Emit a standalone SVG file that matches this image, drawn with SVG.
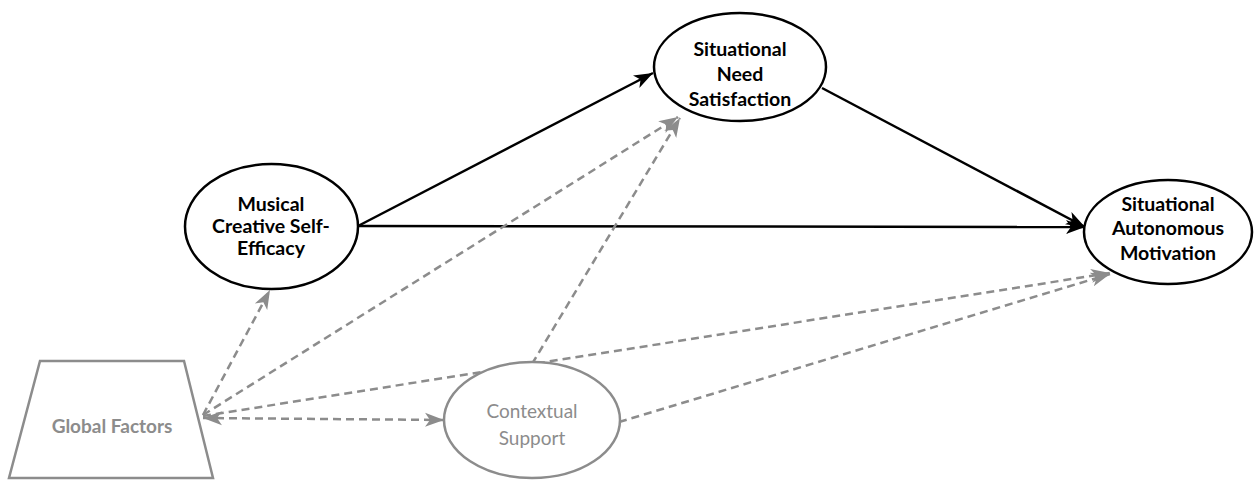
<svg xmlns="http://www.w3.org/2000/svg" width="1257" height="481" viewBox="0 0 1257 481">
  <style>
    .node { fill: #ffffff; stroke: #000000; stroke-width: 2.5; }
    .node-grey { fill: #ffffff; stroke: #8c8c8c; stroke-width: 2.5; }
    .label { font-family: Lato, "Open Sans", "Liberation Sans", sans-serif; font-size: 19.5px; font-weight: bold; fill: #000000; text-anchor: middle; dominant-baseline: central; }
    .label-grey { font-family: Lato, "Open Sans", "Liberation Sans", sans-serif; font-size: 19px; fill: #8c8c8c; text-anchor: middle; dominant-baseline: central; }
    .solid { fill: none; stroke: #000000; stroke-width: 2.5; marker-end: url(#head-black); }
    .dashed { fill: none; stroke: #8c8c8c; stroke-width: 2.5; stroke-dasharray: 8 5; marker-end: url(#head-grey); }
  </style>
  <defs>
    <marker id="head-black" markerUnits="userSpaceOnUse" markerWidth="20" markerHeight="16" viewBox="0 0 20 16" refX="19" refY="8" orient="auto">
      <path d="M0,1 L19,8 L0,15 L5,8 z" fill="#000000"/>
    </marker>
    <marker id="head-grey" markerUnits="userSpaceOnUse" markerWidth="20" markerHeight="16" viewBox="0 0 20 16" refX="19" refY="8" orient="auto">
      <path d="M0,1 L19,8 L0,15 L5,8 z" fill="#8c8c8c"/>
    </marker>
    <marker id="tail-grey" markerUnits="userSpaceOnUse" markerWidth="20" markerHeight="16" viewBox="0 0 20 16" refX="1" refY="8" orient="auto">
      <path d="M20,1 L1,8 L20,15 L15,8 z" fill="#8c8c8c"/>
    </marker>
  </defs>

  <!-- connectors -->
  <g id="connectors">
    <line class="solid" x1="358" y1="226" x2="653" y2="73"/>
    <line class="solid" x1="358" y1="226" x2="1085" y2="227"/>
    <line class="solid" x1="822" y1="88" x2="1085" y2="227"/>

    <line class="dashed" x1="203" y1="415" x2="270" y2="290"/>
    <line class="dashed" x1="203" y1="415" x2="678" y2="117"/>
    <line class="dashed" x1="203" y1="416" x2="1110" y2="273"/>
    <line class="dashed" x1="203" y1="418" x2="444" y2="420" marker-start="url(#tail-grey)"/>
    <line class="dashed" x1="532" y1="364" x2="680" y2="118"/>
    <line class="dashed" x1="619" y1="422" x2="1110" y2="274"/>
  </g>

  <!-- nodes -->
  <g id="node-global-factors">
    <polygon class="node-grey" points="40,361 184,361 213,478 9,478"/>
    <text class="label-grey" x="112" y="425" font-weight="bold" font-size="20px">Global Factors</text>
  </g>

  <g id="node-self-efficacy">
    <ellipse class="node" cx="271.5" cy="226.5" rx="86.5" ry="62.5"/>
    <text class="label" x="271" y="203">Musical</text>
    <text class="label" x="271" y="225">Creative Self-</text>
    <text class="label" x="271" y="247">Efficacy</text>
  </g>

  <g id="node-need-satisfaction">
    <ellipse class="node" cx="740" cy="67" rx="86" ry="54"/>
    <text class="label" x="740" y="48">Situational</text>
    <text class="label" x="740" y="73">Need</text>
    <text class="label" x="740" y="98">Satisfaction</text>
  </g>

  <g id="node-autonomous-motivation">
    <ellipse class="node" cx="1168" cy="232" rx="84" ry="52"/>
    <text class="label" x="1168" y="203">Situational</text>
    <text class="label" x="1168" y="227">Autonomous</text>
    <text class="label" x="1168" y="252">Motivation</text>
  </g>

  <g id="node-contextual-support">
    <ellipse class="node-grey" cx="532" cy="420" rx="88" ry="58"/>
    <text class="label-grey" x="532" y="410">Contextual</text>
    <text class="label-grey" x="532" y="437">Support</text>
  </g>
</svg>
